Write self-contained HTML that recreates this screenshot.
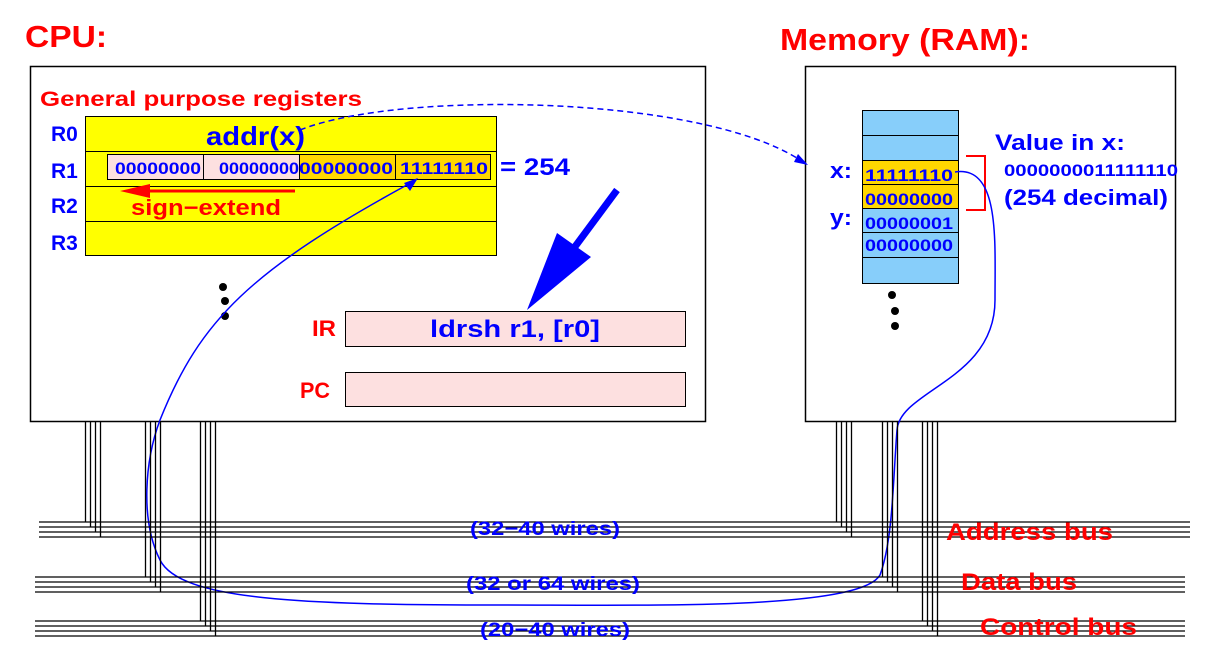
<!DOCTYPE html>
<html><head><meta charset="utf-8"><style>
html,body{margin:0;padding:0;background:#fff;}
svg{display:block;}
text{font-family:"Liberation Sans",sans-serif;font-weight:bold;}
</style></head><body>
<svg width="1210" height="651" viewBox="0 0 1210 651" xmlns="http://www.w3.org/2000/svg">
<rect width="1210" height="651" fill="#fff"/>
<text x="25" y="47" font-size="31" fill="#f00" textLength="82" lengthAdjust="spacingAndGlyphs">CPU:</text>
<text x="780" y="50" font-size="31" fill="#f00" textLength="250" lengthAdjust="spacingAndGlyphs">Memory (RAM):</text>
<rect x="30.5" y="66.5" width="675" height="355" fill="#fff" stroke="#000" stroke-width="1.5"/>
<rect x="805.5" y="66.5" width="370" height="355" fill="#fff" stroke="#000" stroke-width="1.5"/>
<text x="40" y="106" font-size="21" fill="#f00" textLength="322" lengthAdjust="spacingAndGlyphs">General purpose registers</text>
<rect x="85.5" y="116.5" width="411" height="139" fill="#ff0" stroke="#000"/>
<line x1="85" y1="151.5" x2="496" y2="151.5" stroke="#000"/>
<line x1="85" y1="186.5" x2="496" y2="186.5" stroke="#000"/>
<line x1="85" y1="221.5" x2="496" y2="221.5" stroke="#000"/>
<g font-size="21" fill="#00f"><text x="51" y="141">R0</text><text x="51" y="178">R1</text><text x="51" y="213">R2</text><text x="51" y="250">R3</text></g>
<text x="206" y="145" font-size="26" fill="#00f" textLength="99" lengthAdjust="spacingAndGlyphs">addr(x)</text>
<rect x="107.5" y="154.5" width="96" height="25" fill="#fde0e0" stroke="#000"/>
<rect x="203.5" y="154.5" width="96" height="25" fill="#fde0e0" stroke="#000"/>
<rect x="299.5" y="154.5" width="96" height="25" fill="#ffd700" stroke="#000"/>
<rect x="395.5" y="154.5" width="95" height="25" fill="#ffd700" stroke="#000"/>
<g font-size="17" fill="#00f" lengthAdjust="spacingAndGlyphs"><text x="115" y="174" textLength="86" lengthAdjust="spacingAndGlyphs">00000000</text><text x="219" y="174" textLength="80" lengthAdjust="spacingAndGlyphs">00000000</text><text x="299" y="174" textLength="94" lengthAdjust="spacingAndGlyphs">00000000</text><text x="400" y="174" textLength="88" lengthAdjust="spacingAndGlyphs">11111110</text></g>
<text x="500" y="175" font-size="24" fill="#00f" textLength="70" lengthAdjust="spacingAndGlyphs">= 254</text>
<line x1="140" y1="191" x2="295" y2="191" stroke="#f00" stroke-width="3"/>
<polygon points="120,191 150,184 150,198" fill="#f00"/>
<text x="131" y="215" font-size="22" fill="#f00" textLength="150" lengthAdjust="spacingAndGlyphs">sign−extend</text>
<circle cx="223" cy="287" r="4"/><circle cx="225" cy="301" r="4"/><circle cx="225" cy="316" r="4"/>
<text x="312" y="336" font-size="22" fill="#f00" textLength="24" lengthAdjust="spacingAndGlyphs">IR</text>
<text x="300" y="398" font-size="22" fill="#f00" textLength="30" lengthAdjust="spacingAndGlyphs">PC</text>
<rect x="345.5" y="311.5" width="340" height="35" fill="#fde0e0" stroke="#000"/>
<rect x="345.5" y="372.5" width="340" height="34" fill="#fde0e0" stroke="#000"/>
<text x="430" y="337" font-size="24" fill="#00f" textLength="170" lengthAdjust="spacingAndGlyphs">ldrsh  r1, [r0]</text>
<line x1="617" y1="190" x2="574" y2="248" stroke="#00f" stroke-width="7"/>
<polygon points="527,310 557,233 591,257" fill="#00f"/>
<rect x="862.5" y="110.5" width="96" height="173" fill="#87cefa" stroke="#000"/>
<rect x="862.5" y="160.5" width="96" height="48" fill="#ffd700" stroke="#000"/>
<g stroke="#000"><line x1="862" y1="135.5" x2="958" y2="135.5"/><line x1="862" y1="184.5" x2="958" y2="184.5"/><line x1="862" y1="232.5" x2="958" y2="232.5"/><line x1="862" y1="257.5" x2="958" y2="257.5"/></g>
<g font-size="17" fill="#00f"><text x="865" y="181" textLength="88" lengthAdjust="spacingAndGlyphs">11111110</text><text x="865" y="205" textLength="88" lengthAdjust="spacingAndGlyphs">00000000</text><text x="865" y="229" textLength="88" lengthAdjust="spacingAndGlyphs">00000001</text><text x="865" y="251" textLength="88" lengthAdjust="spacingAndGlyphs">00000000</text></g>
<text x="830" y="178" font-size="22" fill="#00f" textLength="22" lengthAdjust="spacingAndGlyphs">x:</text>
<text x="830" y="225" font-size="22" fill="#00f" textLength="22" lengthAdjust="spacingAndGlyphs">y:</text>
<polyline points="966,156 985,156 985,210 966,210" fill="none" stroke="#f00" stroke-width="2"/>
<text x="995" y="150" font-size="22" fill="#00f" textLength="130" lengthAdjust="spacingAndGlyphs">Value in x:</text>
<text x="1004" y="176" font-size="17" fill="#00f" textLength="174" lengthAdjust="spacingAndGlyphs">0000000011111110</text>
<text x="1004" y="205" font-size="22" fill="#00f" textLength="164" lengthAdjust="spacingAndGlyphs">(254 decimal)</text>
<circle cx="892" cy="295" r="4"/><circle cx="895" cy="311" r="4"/><circle cx="895" cy="326" r="4"/>
<path d="M300,130 C400,90 700,95 800,160" fill="none" stroke="#00f" stroke-width="1.5" stroke-dasharray="6,4"/>
<polygon points="808,165 794,162 798,154" fill="#00f"/>
<path d="M955,172 C1000,165 995,240 995,300 C995,380 900,390 897,430 C893,480 893,540 880,575 C860,610 650,605 500,605 C300,605 180,600 160,560 C140,520 145,460 160,420 C200,320 250,270 416,180" fill="none" stroke="#00f" stroke-width="1.5"/>
<polygon points="418,178 404,183 410,191" fill="#00f"/>
<g stroke="#000" stroke-width="1.3" fill="none">
<line x1="39" y1="522" x2="1190" y2="522"/><line x1="39" y1="527" x2="1190" y2="527"/><line x1="39" y1="532" x2="1190" y2="532"/><line x1="39" y1="537" x2="1190" y2="537"/>
<line x1="35" y1="577" x2="1185" y2="577"/><line x1="35" y1="582" x2="1185" y2="582"/><line x1="35" y1="587" x2="1185" y2="587"/><line x1="35" y1="592" x2="1185" y2="592"/>
<line x1="35" y1="621" x2="1185" y2="621"/><line x1="35" y1="626" x2="1185" y2="626"/><line x1="35" y1="631" x2="1185" y2="631"/><line x1="35" y1="636" x2="1185" y2="636"/>
<line x1="85.5" y1="421" x2="85.5" y2="522"/><line x1="90.5" y1="421" x2="90.5" y2="527"/><line x1="95.5" y1="421" x2="95.5" y2="532"/><line x1="100.5" y1="421" x2="100.5" y2="537"/>
<line x1="145.5" y1="421" x2="145.5" y2="577"/><line x1="150.5" y1="421" x2="150.5" y2="582"/><line x1="155.5" y1="421" x2="155.5" y2="587"/><line x1="160.5" y1="421" x2="160.5" y2="592"/>
<line x1="200.5" y1="421" x2="200.5" y2="621"/><line x1="205.5" y1="421" x2="205.5" y2="626"/><line x1="210.5" y1="421" x2="210.5" y2="631"/><line x1="215.5" y1="421" x2="215.5" y2="636"/>
<line x1="836.5" y1="421" x2="836.5" y2="522"/><line x1="841.5" y1="421" x2="841.5" y2="527"/><line x1="846.5" y1="421" x2="846.5" y2="532"/><line x1="851.5" y1="421" x2="851.5" y2="537"/>
<line x1="882.5" y1="421" x2="882.5" y2="577"/><line x1="887.5" y1="421" x2="887.5" y2="582"/><line x1="892.5" y1="421" x2="892.5" y2="587"/><line x1="897.5" y1="421" x2="897.5" y2="592"/>
<line x1="922.5" y1="421" x2="922.5" y2="621"/><line x1="927.5" y1="421" x2="927.5" y2="626"/><line x1="932.5" y1="421" x2="932.5" y2="631"/><line x1="937.5" y1="421" x2="937.5" y2="636"/>
</g>
<g font-size="19" fill="#00f"><text x="470" y="535" textLength="150" lengthAdjust="spacingAndGlyphs">(32−40 wires)</text><text x="466" y="590" textLength="174" lengthAdjust="spacingAndGlyphs">(32 or 64 wires)</text><text x="480" y="636" textLength="150" lengthAdjust="spacingAndGlyphs">(20−40 wires)</text></g>
<g font-size="24" fill="#f00"><text x="946" y="540" textLength="167" lengthAdjust="spacingAndGlyphs">Address bus</text><text x="961" y="590" textLength="116" lengthAdjust="spacingAndGlyphs">Data bus</text><text x="980" y="635" textLength="157" lengthAdjust="spacingAndGlyphs">Control bus</text></g>
</svg>
</body></html>
